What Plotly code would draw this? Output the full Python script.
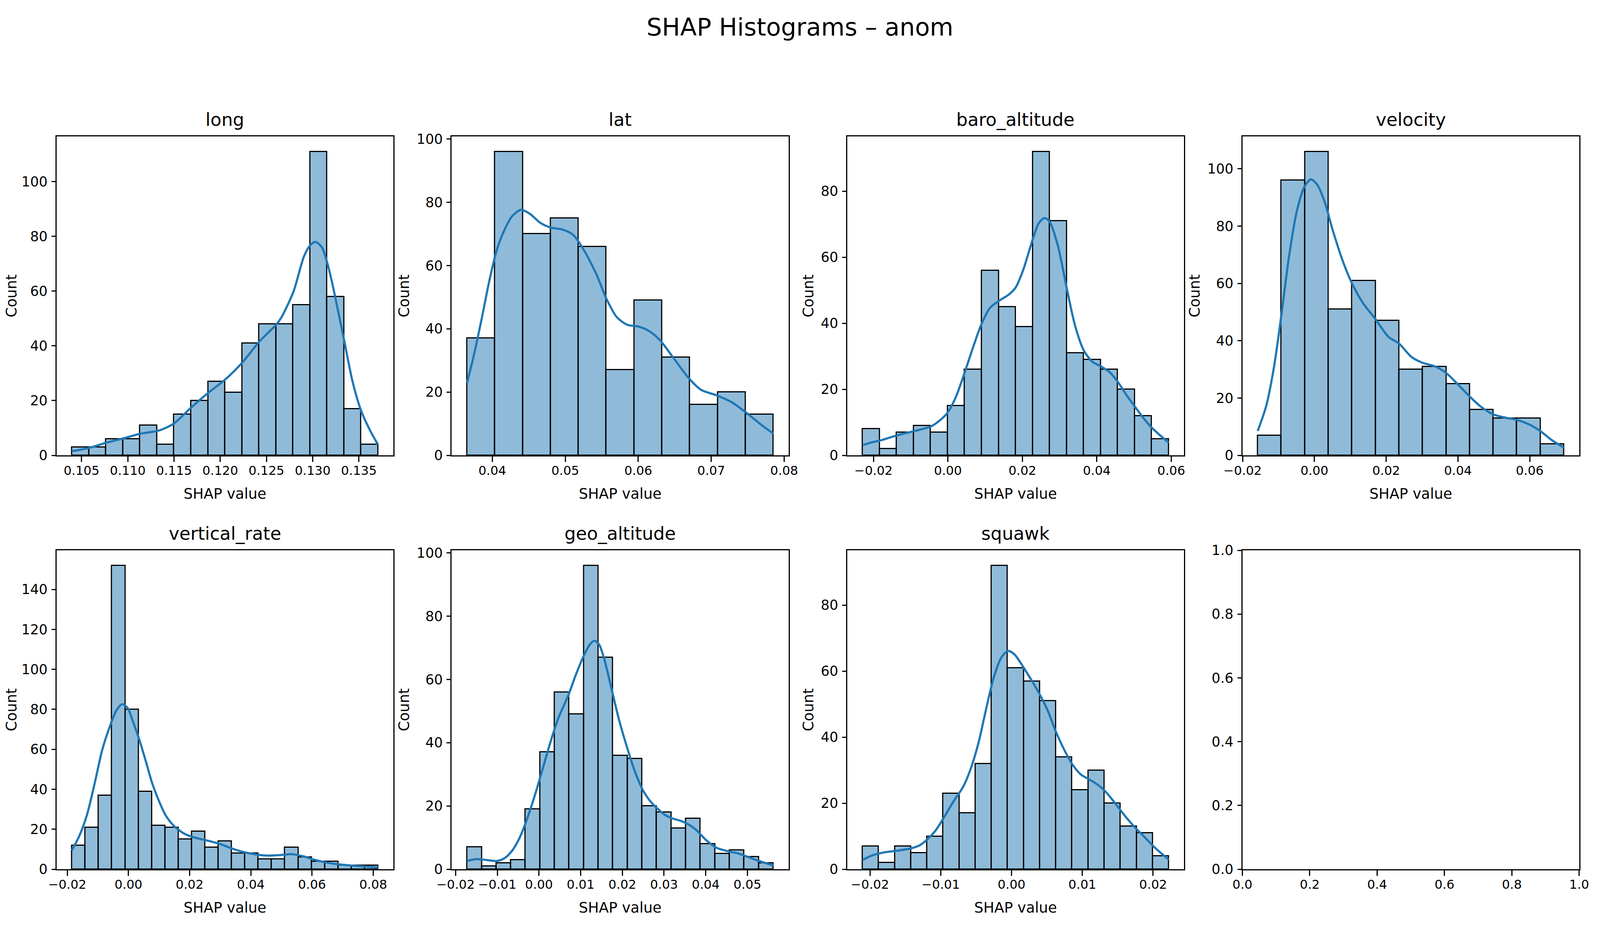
import numpy as np
import plotly.graph_objects as go
from plotly.subplots import make_subplots

# histogram counts per feature, bin range (first left edge, last right edge), and kde curve
long_counts = [3, 3, 6, 6, 11, 4, 15, 20, 27, 23, 41, 48, 48, 55, 111, 58, 17, 4]
long_bins = [0.10395, 0.13707]
long_kde_x = [0.10395, 0.1058, 0.10765, 0.10953, 0.11135, 0.1132, 0.11416, 0.11502, 0.11687, 0.11869,
              0.12054, 0.12239, 0.12424, 0.12606, 0.12658, 0.12791, 0.12907, 0.12976, 0.13031, 0.131,
              0.13158, 0.13211, 0.13343, 0.13432, 0.13525, 0.13624, 0.13707]
long_kde_y = [1.5, 2.7, 4.6, 6.2, 7.9, 8.9, 10.1, 11.7, 17.5, 22.8, 27.7, 33.9, 41.6, 47.8, 50.2, 59.7,
              72.8, 76.9, 78, 76, 70.3, 63, 41.6, 26.9, 16.2, 8.9, 3.9]

lat_counts = [37, 96, 70, 75, 66, 27, 49, 31, 16, 20, 13]
lat_bins = [0.03654, 0.0785]
lat_kde_x = [0.03654, 0.03748, 0.03853, 0.03958, 0.04063, 0.04168, 0.04273, 0.04395, 0.04517, 0.04657,
             0.04797, 0.04972, 0.05112, 0.05252, 0.05427, 0.05566, 0.05706, 0.05846, 0.06021, 0.06161,
             0.06301, 0.06476, 0.06685, 0.0686, 0.0707, 0.0728, 0.0749, 0.077, 0.0785]
lat_kde_y = [22.9, 31.7, 43, 55, 65, 71.3, 75.6, 77.6, 76.3, 73.5, 72, 71.3, 69.6, 65, 57.2, 49.4, 43.7,
             41.3, 40.6, 39.1, 36.3, 31, 24.6, 20.7, 19, 16.8, 13.3, 9.4, 6.9]

baro_counts = [8, 2, 7, 9, 7, 15, 26, 56, 45, 39, 92, 71, 31, 29, 26, 20, 12, 5]
baro_bins = [-0.02295, 0.05931]
baro_kde_x = [-0.02295, -0.02055, -0.01781, -0.01383, -0.00924, -0.00464, -0.00238, -0.00012, 0.00207,
              0.00447, 0.00687, 0.00907, 0.01133, 0.01359, 0.01647, 0.01818, 0.02024, 0.02277, 0.02435,
              0.02593, 0.0273, 0.02949, 0.03189, 0.03415, 0.03648, 0.03875, 0.041, 0.04334, 0.0456,
              0.048, 0.0502, 0.05246, 0.05473, 0.05931]
baro_kde_y = [3.1, 3.9, 4.6, 6.0, 7.3, 8.7, 10.4, 12.9, 17.5, 25, 33.1, 39.9, 44.7, 46.7, 48.8, 50.8,
              56.2, 65.4, 70.2, 71.9, 70.8, 63.7, 50.8, 39.3, 31.8, 28.4, 27, 25.3, 22.3, 18.2, 14.8,
              11.4, 8.4, 3.8]

vel_counts = [7, 96, 106, 51, 61, 47, 30, 31, 25, 16, 13, 13, 4]
vel_bins = [-0.0158, 0.06953]
vel_kde_x = [-0.0158, -0.01346, -0.01132, -0.00919, -0.00706, -0.00492, -0.00279, -0.00101, 0.00076,
             0.0029, 0.00503, 0.00788, 0.01044, 0.01356, 0.01698, 0.02068, 0.02359, 0.02708, 0.03013,
             0.03348, 0.03667, 0.03987, 0.04322, 0.04627, 0.04983, 0.05339, 0.05637, 0.05979, 0.06292,
             0.06619, 0.06953]
vel_kde_y = [8.5, 17.1, 30.4, 49.1, 69.5, 85.1, 93.7, 96.3, 94.5, 88.3, 78.9, 67.9, 60.1, 53.1, 47.6,
             41.3, 39, 34.3, 32.3, 31.1, 28.8, 24.9, 20.6, 17.1, 14.3, 13.1, 12.4, 10.8, 8.5, 5.3, 2.7]

vr_counts = [12, 21, 37, 152, 80, 39, 22, 21, 15, 19, 11, 14, 8, 8, 5, 5, 11, 6, 4, 4, 2, 2, 2]
vr_bins = [-0.0185, 0.08158]
vr_kde_x = [-0.0185, -0.01608, -0.01358, -0.01108, -0.00857, -0.00607, -0.00399, -0.00207, -0.00025,
            0.00142, 0.00352, 0.00559, 0.00769, 0.00977, 0.01211, 0.01478, 0.01811, 0.02145, 0.02562,
            0.02979, 0.03396, 0.03813, 0.04255, 0.04564, 0.0498, 0.05356, 0.05731, 0.06065, 0.06482,
            0.06899, 0.07483, 0.08158]
vr_kde_y = [9.4, 16.6, 27.1, 42.7, 59.7, 71.5, 79.3, 82.6, 80.7, 74.1, 65, 54.5, 43.4, 34.9, 27.1, 21.8,
            17.9, 15.9, 14.4, 12.7, 10.3, 8.4, 7.2, 6.8, 7.1, 7.5, 6.4, 4.8, 3.3, 2.4, 1.6, 0.9]

geo_counts = [7, 1, 2, 3, 19, 37, 56, 49, 96, 67, 36, 35, 20, 18, 13, 16, 8, 5, 6, 4, 2]
geo_bins = [-0.01725, 0.05619]
geo_kde_x = [-0.01725, -0.01498, -0.01253, -0.01009, -0.00825, -0.00641, -0.00458, -0.00274, -0.00091,
             0.00093, 0.00276, 0.0046, 0.00705, 0.00889, 0.01072, 0.01225, 0.01329, 0.01439, 0.01562,
             0.01746, 0.01929, 0.02113, 0.02296, 0.0248, 0.02663, 0.02847, 0.0303, 0.03214, 0.03398,
             0.03581, 0.03765, 0.0401, 0.04255, 0.04499, 0.04744, 0.04989, 0.05234, 0.05619]
geo_kde_y = [2.6, 3.2, 2.9, 2.6, 3.5, 5.9, 10.1, 16.3, 23.7, 31.9, 40.2, 47.6, 55, 61.6, 67.4, 71.1, 72.2,
             71.1, 66.6, 56.7, 46.8, 38.5, 31.1, 25.3, 21.6, 19.1, 17.1, 16, 15.3, 14.2, 12.5, 9.2, 6.8,
             5.8, 5.1, 4, 2.8, 1.2]

sq_counts = [7, 2, 7, 5, 10, 23, 17, 32, 92, 61, 57, 51, 34, 24, 30, 20, 13, 11, 4]
sq_bins = [-0.02105, 0.0222]
sq_kde_x = [-0.02105, -0.01978, -0.01798, -0.01618, -0.01423, -0.01293, -0.01196, -0.01077, -0.00968,
            -0.00824, -0.0068, -0.00572, -0.00463, -0.00355, -0.00247, -0.00139, -0.00049, 0.0004,
            0.0017, 0.00294, 0.00402, 0.0051, 0.00626, 0.00763, 0.00871, 0.00979, 0.01088, 0.01196,
            0.01311, 0.01448, 0.01593, 0.01737, 0.01881, 0.02026, 0.0222]
sq_kde_y = [2.8, 4.1, 5.1, 5.6, 6.3, 7.3, 8.9, 11.6, 15.2, 20.4, 25.1, 30.7, 38.6, 48.9, 58.4, 64.3, 66.1,
            65.1, 61.1, 56.8, 52.8, 48.1, 41.7, 35.4, 31.4, 28.7, 27.3, 25.9, 23.9, 20.4, 16.4, 12.8,
            9.7, 6.5, 2.9]

features = ['long', 'lat', 'baro_altitude', 'velocity', 'vertical_rate', 'geo_altitude', 'squawk']
empty_ticks = [0.0, 0.2, 0.4, 0.6, 0.8, 1.0]

# (counts, bins, kde x, kde y, x tick start, x tick step, x tick format)
panels = [
    (long_counts, long_bins, long_kde_x, long_kde_y, 0.105, 0.005, '.3f'),
    (lat_counts, lat_bins, lat_kde_x, lat_kde_y, 0.04, 0.01, '.2f'),
    (baro_counts, baro_bins, baro_kde_x, baro_kde_y, -0.02, 0.02, '.2f'),
    (vel_counts, vel_bins, vel_kde_x, vel_kde_y, -0.02, 0.02, '.2f'),
    (vr_counts, vr_bins, vr_kde_x, vr_kde_y, -0.02, 0.02, '.2f'),
    (geo_counts, geo_bins, geo_kde_x, geo_kde_y, -0.02, 0.01, '.2f'),
    (sq_counts, sq_bins, sq_kde_x, sq_kde_y, -0.02, 0.01, '.2f'),
]

# the browser window comes out 4096 px wide, so the figure fills it (minus the 8px body margin)
W, H = 4080, 2384
REF_W, REF_H = 6000, 2400
FONT = 'DejaVu Sans'
XTICK_PX = 32
YTICK_PX = 35
LABEL_PX = 37
LINE_W = 3


def fx(p):
    # reference pixel column -> paper fraction
    return (p / REF_W * (W + 16) - 8) / W


def fy(p):
    # reference pixel row (from top) -> paper fraction (from bottom)
    return 1 - (p / REF_H * (H + 16) - 8) / H


# axes boxes in reference pixels
col_left = [212, 1694, 3177, 4659]
ax_w = 1263
row_top = [349, 1408]
ax_h = 816

fig = make_subplots(rows=2, cols=4)

base = dict(
    showline=True, linecolor='black', linewidth=LINE_W, mirror=True,
    ticks='outside', tickwidth=LINE_W, tickcolor='black',
    showgrid=False, zeroline=False, automargin=False,
)
xstyle = dict(base, ticklen=14, ticklabelstandoff=-5, tickangle=0,
              tickfont=dict(family=FONT, size=XTICK_PX, color='black'))
ystyle = dict(base, ticklen=10, ticklabelstandoff=3,
              tickfont=dict(family=FONT, size=YTICK_PX, color='black'))
title_font = dict(family=FONT, size=LABEL_PX, color='black')

for i in range(8):
    r, c = i // 4 + 1, i % 4 + 1
    x0 = fx(col_left[c - 1])
    x1 = fx(col_left[c - 1] + ax_w)
    y1 = fy(row_top[r - 1])
    y0 = fy(row_top[r - 1] + ax_h)
    fig.update_xaxes(domain=[x0, x1], row=r, col=c, **xstyle)
    fig.update_yaxes(domain=[y0, y1], row=r, col=c, **ystyle)

    if i == 7:
        # empty last panel, only the frame and 0-1 ticks
        fig.add_trace(go.Scatter(x=[], y=[], showlegend=False), row=r, col=c)
        fig.update_xaxes(range=[0, 1], tickvals=empty_ticks, tickformat='.1f', row=r, col=c)
        fig.update_yaxes(range=[0, 1], tickvals=empty_ticks, tickformat='.1f', row=r, col=c)
        continue

    counts, bins, kx, ky, t0, dt, fmt = panels[i]
    edges = np.linspace(bins[0], bins[1], len(counts) + 1)
    width = edges[1] - edges[0]

    fig.add_trace(go.Bar(
        x=edges[:-1], y=counts, width=width, offset=0,
        marker=dict(color='rgba(31,119,180,0.5)', line=dict(color='black', width=3)),
        showlegend=False,
    ), row=r, col=c)
    fig.add_trace(go.Scatter(
        x=kx, y=ky, mode='lines', line=dict(color='#1f77b4', width=5.5, shape='spline', smoothing=0.8),
        showlegend=False,
    ), row=r, col=c)

    span = bins[1] - bins[0]
    fig.update_xaxes(range=[bins[0] - 0.05 * span, bins[1] + 0.05 * span], tick0=t0, dtick=dt,
                     tickformat=fmt, row=r, col=c,
                     title=dict(text='SHAP value', standoff=28, font=title_font))
    fig.update_yaxes(range=[0, max(counts) * 1.05], tick0=0, dtick=20, row=r, col=c,
                     title=dict(text='Count', standoff=8, font=title_font))

    # subplot title
    fig.add_annotation(
        x=(x0 + x1) / 2, y=y1, xref='paper', yref='paper', xanchor='center', yanchor='bottom',
        yshift=14, text=features[i], showarrow=False,
        font=dict(family=FONT, size=46, color='black'),
    )

fig.update_layout(
    width=W, height=H,
    margin=dict(l=0, r=0, t=0, b=0),
    template='none',
    paper_bgcolor='white', plot_bgcolor='white',
    bargap=0,
    title=dict(text='SHAP Histograms – anom', x=0.5, xanchor='center', y=fy(48), yanchor='top',
               font=dict(family=FONT, size=62, color='black')),
)

fig.write_html("out.html")
